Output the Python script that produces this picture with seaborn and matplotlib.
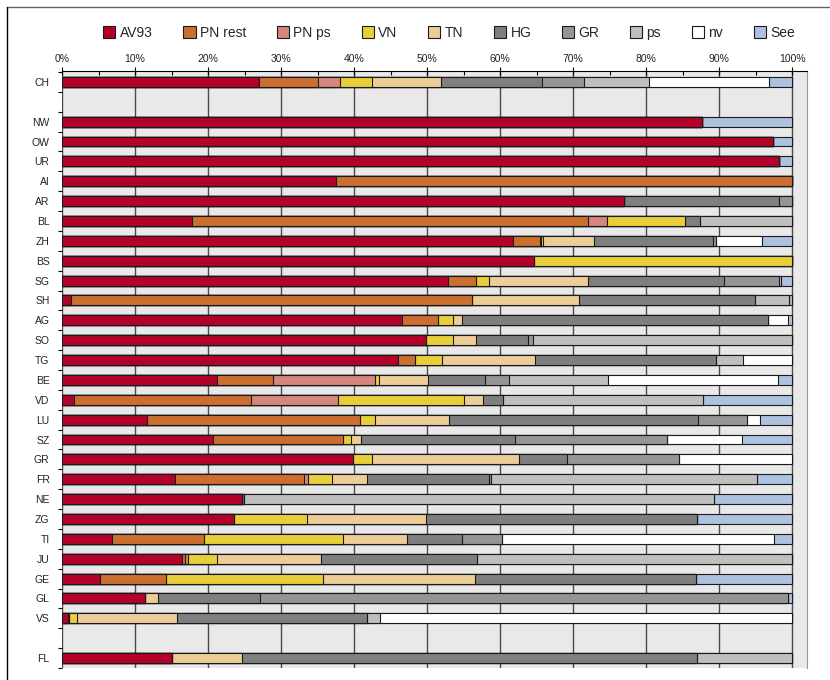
import pandas as pd
import matplotlib.pyplot as plt
import seaborn as sns
from matplotlib.patches import Patch
from matplotlib.lines import Line2D
from matplotlib.ticker import MultipleLocator, FixedLocator, PercentFormatter

sns.set_theme(style="white")
plt.rcParams['font.family'] = ['Liberation Sans Narrow', 'Liberation Sans', 'DejaVu Sans']

# Kantone (Reihenfolge von oben nach unten), Anteile in %
kantone = ['CH', 'NW', 'OW', 'UR', 'AI', 'AR', 'BL', 'ZH', 'BS', 'SG', 'SH', 'AG', 'SO', 'TG',
           'BE', 'VD', 'LU', 'SZ', 'GR', 'FR', 'NE', 'ZG', 'TI', 'JU', 'GE', 'GL', 'VS', 'FL']
reihenfolge = ['CH', ' '] + kantone[1:-1] + ['  ', 'FL']

AV93 = [27.0, 87.6, 97.4, 98.1, 37.5, 76.9, 17.8, 61.8, 64.6, 52.8, 1.2, 46.5, 49.9, 46.0,
        21.2, 1.6, 11.6, 20.7, 39.8, 15.5, 24.6, 23.5, 6.8, 16.4, 5.2, 11.3, 0.8, 15.0]
PN_rest = [8.1, 0, 0, 0, 62.5, 0, 54.2, 3.6, 0, 3.9, 54.9, 5.0, 0, 2.3,
           7.7, 24.3, 29.2, 17.8, 0, 17.6, 0, 0, 12.7, 0.4, 9.0, 0, 0.2, 0]
PN_ps = [3.0, 0, 0, 0, 0, 0, 2.6, 0.2, 0, 0, 0, 0, 0, 0,
         14.0, 11.9, 0, 0, 0, 0.6, 0, 0, 0, 0.4, 0, 0, 0, 0]
VN = [4.4, 0, 0, 0, 0, 0, 10.7, 0.3, 35.4, 1.7, 0, 2.1, 3.6, 3.7,
      0.5, 17.2, 2.1, 1.0, 2.7, 3.2, 0, 10.1, 19.0, 4.0, 21.6, 0, 1.1, 0]
TN = [9.4, 0, 0, 0, 0, 0, 0, 6.9, 0, 13.6, 14.7, 1.2, 3.2, 12.8,
      6.7, 2.7, 10.1, 1.4, 20.1, 4.9, 0, 16.2, 8.8, 14.2, 20.8, 1.9, 13.6, 9.7]
HG = [13.8, 0, 0, 0, 0, 21.3, 2.1, 16.3, 0, 18.7, 24.1, 41.8, 7.1, 24.8,
      7.8, 2.7, 34.1, 21.1, 6.6, 16.7, 0.3, 37.1, 7.4, 21.4, 30.2, 13.9, 26.1, 62.2]
GR = [5.7, 0, 0, 0, 0, 1.8, 0, 0.5, 0, 7.4, 0, 0, 0.7, 0,
      3.3, 0, 6.7, 20.8, 15.3, 0.2, 0, 0, 5.6, 0, 0, 72.3, 0, 0]
ps = [8.9, 0, 0, 0, 0, 0, 12.6, 0, 0, 0.3, 4.7, 0, 35.5, 3.6,
      13.5, 27.3, 0, 0, 0, 36.5, 64.4, 0, 0, 43.2, 0, 0, 1.7, 13.1]
nv = [16.5, 0, 0, 0, 0, 0, 0, 6.2, 0, 0, 0, 2.8, 0, 6.8,
      23.3, 0, 1.8, 10.3, 15.5, 0, 0, 0, 37.2, 0, 0, 0, 56.4, 0]
See = [3.2, 12.4, 2.6, 1.9, 0, 0, 0, 4.2, 0, 1.6, 0.4, 0.6, 0, 0,
       2.0, 12.3, 4.4, 6.9, 0, 4.8, 10.7, 13.1, 2.5, 0, 13.2, 0.6, 0.1, 0]

kategorien = ['AV93', 'PN rest', 'PN ps', 'VN', 'TN', 'HG', 'GR', 'ps', 'nv', 'See']
farben = ['#b5002a', '#cc6e30', '#d6867c', '#e8cf3a', '#eccd98',
          '#7f7f7f', '#959595', '#bfbfbf', '#ffffff', '#adc2e1']

df = pd.DataFrame({'Kanton': kantone, 'AV93': AV93, 'PN rest': PN_rest, 'PN ps': PN_ps,
                   'VN': VN, 'TN': TN, 'HG': HG, 'GR': GR, 'ps': ps, 'nv': nv, 'See': See})
kum = df[kategorien].cumsum(axis=1)
kum['Kanton'] = df['Kanton']

fig = plt.figure(figsize=(8.3, 6.8), dpi=100)
ax = fig.add_axes([62 / 830, 1 - 668 / 680, 745 / 830, 597 / 680])
ax.set_facecolor('#e9e9e9')
ax.set_axisbelow(True)

# gestapelte Balken: kumulierte Summen von hinten nach vorne zeichnen
for kat, farbe in reversed(list(zip(kategorien, farben))):
    sns.barplot(data=kum, x=kat, y='Kanton', order=reihenfolge, orient='h',
                color=farbe, saturation=1, width=0.5, errorbar=None,
                edgecolor='#1a1a1a', linewidth=0.8, ax=ax)

ax.set_xlim(0, 102)
ax.set_ylim(29.5, -0.55)
ax.set_xlabel('')
ax.set_ylabel('')

# x-Achse oben
ax.xaxis.tick_top()
ax.xaxis.set_major_locator(FixedLocator(range(0, 101, 10)))
ax.xaxis.set_minor_locator(FixedLocator(range(5, 100, 10)))
ax.xaxis.set_major_formatter(PercentFormatter(decimals=0))
ax.tick_params(axis='x', which='major', direction='inout', length=6, width=0.8,
               color='black', labelsize=7.5, labelcolor='#222', pad=2)
ax.tick_params(axis='x', which='minor', direction='in', length=3, width=0.8, color='black')
ax.grid(True, axis='x', which='major', color='#4a4a4a', linewidth=1)

# y-Achse: Beschriftung ohne Strich, Striche zwischen den Zeilen
ax.yaxis.set_minor_locator(MultipleLocator(1, offset=0.5))
ax.tick_params(axis='y', which='major', length=0, labelsize=7.5, labelcolor='#222', pad=9)
ax.tick_params(axis='y', which='minor', left=True, direction='out', length=3,
               width=0.8, color='black')

for s in ['left', 'bottom']:
    ax.spines[s].set_visible(False)
ax.spines['top'].set_color('black')
ax.spines['top'].set_linewidth(0.8)
ax.spines['right'].set_color('#999999')
ax.spines['right'].set_linewidth(0.8)

handles = [Patch(facecolor=f, edgecolor='#1a1a1a', linewidth=0.8) for f in farben]
fig.legend(handles, kategorien, loc='center', bbox_to_anchor=(449 / 830, 1 - 33 / 680),
           ncol=10, frameon=False, fontsize=10, handlelength=0.9, handleheight=0.9,
           handletextpad=0.3, columnspacing=2.2)

# Rahmenlinien oben und links
fig.add_artist(Line2D([7 / 830, 1], [1 - 7 / 680, 1 - 7 / 680], transform=fig.transFigure,
                      color='#666666', linewidth=1))
fig.add_artist(Line2D([7 / 830, 7 / 830], [0, 1 - 7 / 680], transform=fig.transFigure,
                      color='black', linewidth=1))

plt.savefig('out.png', dpi=100)
